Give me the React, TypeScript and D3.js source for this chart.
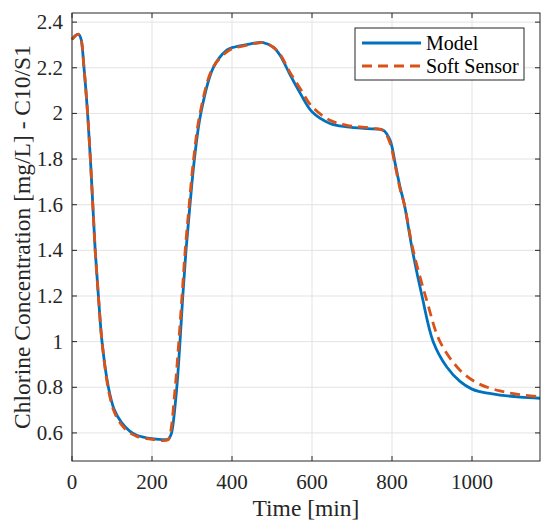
import React from "react";
import * as d3 from "d3";

// Model output (blue, solid)
const modelTime = [
  0, 8, 16, 22, 30, 39, 46, 52, 58, 66, 75, 91, 105, 124, 145, 162, 200, 240,
  244, 249, 262, 270, 277, 285, 295, 306, 322, 353, 387, 400, 440, 478, 503,
  520, 545, 570, 600, 645, 687, 753, 778, 795, 808, 820, 831, 851, 875, 903,
  937, 970, 1000, 1020, 1040, 1070, 1120, 1170,
];
const modelValue = [
  2.324, 2.34, 2.347, 2.33, 2.2, 2.0, 1.8, 1.6, 1.4, 1.2, 1.0, 0.8, 0.705, 0.645,
  0.607, 0.59, 0.575, 0.572, 0.58, 0.6, 0.8, 1.0, 1.2, 1.4, 1.6, 1.8, 2.0, 2.2,
  2.277, 2.288, 2.303, 2.31, 2.29, 2.255, 2.17, 2.09, 2.007, 1.956, 1.941,
  1.932, 1.927, 1.883, 1.78, 1.678, 1.6, 1.4, 1.2, 1.0, 0.889, 0.826, 0.792,
  0.781, 0.774, 0.766, 0.757, 0.752,
];

// Soft sensor estimate (orange, dashed)
const sensorTime = [
  0, 8, 16, 22, 30, 39, 46, 52, 58, 66, 75, 91, 105, 124, 145, 162, 200, 240,
  246, 258, 267, 275, 283, 293, 304, 320, 352, 387, 400, 440, 478, 503, 520,
  545, 570, 600, 645, 687, 753, 778, 795, 808, 820, 831, 853, 887, 920, 970,
  1015, 1070, 1120, 1170,
];
const sensorValue = [
  2.324, 2.34, 2.347, 2.33, 2.2, 2.0, 1.8, 1.6, 1.4, 1.2, 1.0, 0.79, 0.695,
  0.635, 0.6, 0.585, 0.572, 0.57, 0.6, 0.8, 1.0, 1.2, 1.4, 1.6, 1.8, 2.0, 2.2,
  2.27, 2.283, 2.3, 2.31, 2.29, 2.26, 2.18, 2.11, 2.03, 1.97, 1.948, 1.935,
  1.925, 1.87, 1.77, 1.67, 1.6, 1.4, 1.18, 1.0, 0.875, 0.817, 0.784, 0.768,
  0.758,
];

const xTicks = [0, 200, 400, 600, 800, 1000];
const yTicks = [0.6, 0.8, 1, 1.2, 1.4, 1.6, 1.8, 2, 2.2, 2.4];

const width = 550;
const height = 531;
const margin = { top: 13, right: 10, bottom: 70, left: 72 };
const FONT = "'Liberation Serif', 'Times New Roman', serif";

const App: React.FC = () => {
  const x = d3
    .scaleLinear()
    .domain([0, 1170])
    .range([margin.left, width - margin.right]);
  const y = d3
    .scaleLinear()
    .domain([0.477, 2.44])
    .range([height - margin.bottom, margin.top]);

  const line = d3
    .line<[number, number]>()
    .x((d) => x(d[0]))
    .y((d) => y(d[1]))
    .curve(d3.curveCatmullRom.alpha(0.5));

  const modelPts = modelTime.map((t, i) => [t, modelValue[i]] as [number, number]);
  const sensorPts = sensorTime.map((t, i) => [t, sensorValue[i]] as [number, number]);

  const [x0, x1] = x.range();
  const [y0, y1] = y.range();
  const tickLen = 5;

  return (
    <div style={{ position: "absolute", left: 0, top: 0 }}>
      <svg width={width} height={height} style={{ display: "block", background: "#fff" }}>
        {/* grid */}
        <g stroke="#e3e3e3" strokeWidth={1}>
          {xTicks.map((t) => (
            <line key={"gx" + t} x1={x(t)} x2={x(t)} y1={y1} y2={y0} />
          ))}
          {yTicks.map((t) => (
            <line key={"gy" + t} x1={x0} x2={x1} y1={y(t)} y2={y(t)} />
          ))}
        </g>

        {/* data */}
        <path d={line(modelPts) ?? ""} fill="none" stroke="#0072BD" strokeWidth={2.8} />
        <path
          d={line(sensorPts) ?? ""}
          fill="none"
          stroke="#D95319"
          strokeWidth={2.8}
          strokeDasharray="10 6"
        />

        {/* box and ticks */}
        <rect x={x0} y={y1} width={x1 - x0} height={y0 - y1} fill="none" stroke="#262626" strokeWidth={1} />
        <g stroke="#262626" strokeWidth={1}>
          {xTicks.map((t) => (
            <g key={"tx" + t}>
              <line x1={x(t)} x2={x(t)} y1={y0} y2={y0 - tickLen} />
              <line x1={x(t)} x2={x(t)} y1={y1} y2={y1 + tickLen} />
            </g>
          ))}
          {yTicks.map((t) => (
            <g key={"ty" + t}>
              <line x1={x0} x2={x0 + tickLen} y1={y(t)} y2={y(t)} />
              <line x1={x1} x2={x1 - tickLen} y1={y(t)} y2={y(t)} />
            </g>
          ))}
        </g>

        {/* tick labels */}
        <g fontFamily={FONT} fontSize={21} fill="#262626">
          {xTicks.map((t) => (
            <text key={"lx" + t} x={x(t)} y={y0 + 28} textAnchor="middle">
              {t}
            </text>
          ))}
          {yTicks.map((t) => (
            <text key={"ly" + t} x={x0 - 9} y={y(t) + 7} textAnchor="end">
              {t}
            </text>
          ))}
        </g>

        {/* axis labels */}
        <text
          x={(x0 + x1) / 2}
          y={516}
          textAnchor="middle"
          fontFamily={FONT}
          fontSize={23.5}
          fill="#262626"
        >
          Time [min]
        </text>
        <text
          transform={`translate(30, ${(y0 + y1) / 2}) rotate(-90)`}
          textAnchor="middle"
          fontFamily={FONT}
          fontSize={23.5}
          fill="#262626"
        >
          Chlorine Concentration [mg/L] - C10/S1
        </text>

        {/* legend */}
        <g fontFamily={FONT} fontSize={20} fill="#000">
          <rect x={355} y={28} width={169} height={52} fill="#fff" stroke="#262626" strokeWidth={1} />
          <line x1={362} x2={421} y1={43} y2={43} stroke="#0072BD" strokeWidth={2.8} />
          <line
            x1={362}
            x2={421}
            y1={66}
            y2={66}
            stroke="#D95319"
            strokeWidth={2.8}
            strokeDasharray="10 6"
          />
          <text x={426} y={50}>
            Model
          </text>
          <text x={426} y={73}>
            Soft Sensor
          </text>
        </g>
      </svg>
    </div>
  );
};

export default App;
